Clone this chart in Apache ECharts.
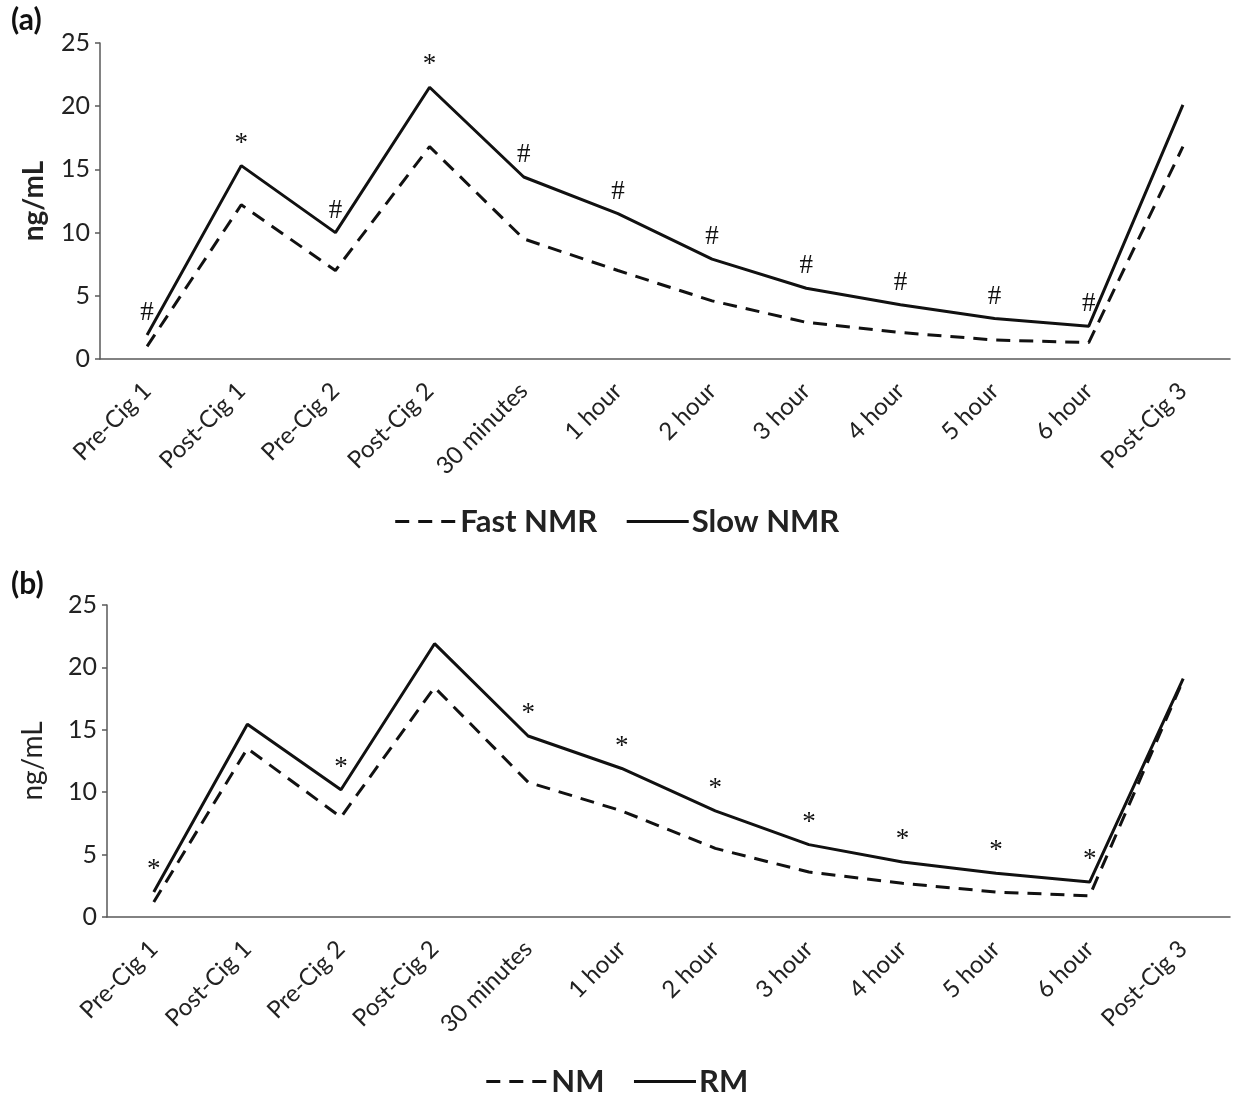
<!DOCTYPE html>
<html><head><meta charset="utf-8">
<script src="https://cdn.jsdelivr.net/npm/echarts@6/dist/echarts.min.js"></script>
<style>html,body{margin:0;padding:0;background:#fff}#c{width:1233px;height:1094px}</style>
</head><body><div id="c"></div>
<script>
const categories = ['Pre-Cig 1','Post-Cig 1','Pre-Cig 2','Post-Cig 2','30 minutes','1 hour','2 hour','3 hour','4 hour','5 hour','6 hour','Post-Cig 3'];
const yMin = 0, yMax = 25, yStep = 5;

// Panel (a)
const fastNMR = [1.0, 12.2, 7.0, 16.8, 9.5, 7.0, 4.6, 2.9, 2.1, 1.5, 1.3, 16.8];
const slowNMR = [1.9, 15.3, 10.0, 21.5, 14.4, 11.5, 7.9, 5.6, 4.3, 3.2, 2.6, 20.1];
const marksA  = ['#','*','#','*','#','#','#','#','#','#','#',''];

// Panel (b)
const nm = [1.2, 13.5, 8.0, 18.4, 10.8, 8.5, 5.5, 3.6, 2.7, 2.0, 1.7, 19.0];
const rm = [2.0, 15.45, 10.2, 21.9, 14.5, 11.9, 8.5, 5.8, 4.4, 3.5, 2.8, 19.1];
const marksB = ['*','','*','','*','*','*','*','*','*','*',''];

const FONT = 'Lato';
const MARK_FONT = 'Liberation Serif';
const axisColor = '#595959';
const textColor = '#222';

function xAxis(gi) {
  return {
    type: 'category', gridIndex: gi, data: categories, boundaryGap: true,
    axisLine: { lineStyle: { color: axisColor, width: 1.5 } },
    axisTick: { show: false },
    axisLabel: { rotate: 45, fontFamily: FONT, fontSize: 24, color: textColor, margin: 28, interval: 0 }
  };
}
function yAxis(gi, bold, gap) {
  return {
    type: 'value', gridIndex: gi, min: yMin, max: yMax, interval: yStep,
    name: 'ng/mL', nameLocation: 'middle', nameGap: gap, nameRotate: 90,
    nameTextStyle: { fontFamily: FONT, fontSize: 28, fontWeight: bold ? 'bold' : 'normal', color: textColor },
    splitLine: { show: false },
    axisLine: { show: true, lineStyle: { color: axisColor, width: 1.5 } },
    axisTick: { show: true, length: 5, lineStyle: { color: axisColor, width: 1.5 } },
    axisLabel: { fontFamily: FONT, fontSize: 25, color: textColor, margin: 10 }
  };
}
function lineSeries(name, data, gi, dashed) {
  return {
    name, type: 'line', xAxisIndex: gi, yAxisIndex: gi, data,
    symbol: 'none', smooth: false, animation: false, z: 2,
    lineStyle: { color: '#111', width: 3, type: dashed ? [14, 9] : 'solid' },
    itemStyle: { color: '#111' }
  };
}
function markSeries(data, gi, marks) {
  return {
    name: 'marks' + gi, type: 'scatter', xAxisIndex: gi, yAxisIndex: gi, data,
    symbol: 'circle', symbolSize: 1, silent: true, animation: false, z: 3,
    itemStyle: { color: 'rgba(0,0,0,0)' },
    label: {
      show: true, position: 'top', distance: 8, opacity: 1,
      fontFamily: MARK_FONT, fontSize: 27, color: '#111',
      formatter: p => marks[p.dataIndex]
    }
  };
}
function legend(top, names) {
  return {
    top, left: 'center', data: names, itemWidth: 62, itemHeight: 14, itemGap: 28,
    textStyle: { fontFamily: FONT, fontSize: 31, fontWeight: 'bold', color: textColor, padding: [0,0,0,-2] },
    lineStyle: { type: 'inherit', width: 3 },
    itemStyle: { opacity: 0 }
  };
}

const chart = echarts.init(document.getElementById('c'), null, { renderer: 'canvas' });
chart.setOption({
  backgroundColor: '#fff',
  animation: false,
  title: [
    { text: '(a)', left: 6, top: 0, textStyle: { fontFamily: FONT, fontSize: 30, fontWeight: 'bold', color: '#111' } },
    { text: '(b)', left: 6, top: 564, textStyle: { fontFamily: FONT, fontSize: 30, fontWeight: 'bold', color: '#111' } }
  ],
  grid: [
    { left: 100, top: 43, width: 1130, height: 316 },
    { left: 107, top: 605, width: 1123, height: 312 }
  ],
  xAxis: [xAxis(0), xAxis(1)],
  yAxis: [yAxis(0, true, 52), yAxis(1, false, 60)],
  legend: [legend(501, ['Fast NMR', 'Slow NMR']), legend(1061, ['NM', 'RM'])],
  series: [
    lineSeries('Fast NMR', fastNMR, 0, true),
    lineSeries('Slow NMR', slowNMR, 0, false),
    markSeries(slowNMR, 0, marksA),
    lineSeries('NM', nm, 1, true),
    lineSeries('RM', rm, 1, false),
    markSeries(rm, 1, marksB)
  ]
});
</script></body></html>
